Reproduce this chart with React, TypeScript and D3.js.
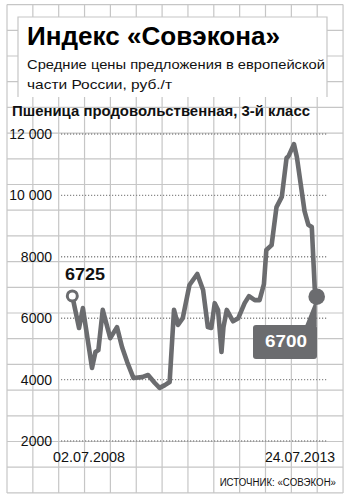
import React from "react";
import * as d3 from "d3";

const W = 349;
const H = 501;

const dates = [
  "2008-07-02", "2008-08-22", "2008-09-20", "2008-11-28", "2008-12-24",
  "2009-01-15", "2009-02-17", "2009-04-15", "2009-06-05", "2009-07-13",
  "2009-08-21", "2009-10-08", "2009-12-12", "2010-01-26", "2010-03-18",
  "2010-04-23", "2010-06-02", "2010-07-08", "2010-08-10", "2010-09-09",
  "2010-10-15", "2010-12-05", "2011-02-02", "2011-03-18", "2011-04-23",
  "2011-05-19", "2011-06-14", "2011-07-09", "2011-08-04", "2011-08-19",
  "2011-09-13", "2011-10-30", "2011-12-09", "2012-01-26", "2012-02-28",
  "2012-04-12", "2012-05-18", "2012-06-20", "2012-07-08", "2012-08-17",
  "2012-09-23", "2012-11-02", "2012-12-08", "2012-12-23", "2013-02-02",
  "2013-02-24", "2013-04-23", "2013-05-22", "2013-06-17", "2013-07-09",
  "2013-07-24",
];

const prices = [
  6725, 5680, 6330, 4380, 4900,
  4960, 6270, 5350, 5710, 5060,
  4570, 4050, 4080, 4150, 3890,
  3730, 3820, 3920, 6270, 5780,
  6000, 7080, 7440, 6920, 5710,
  5680, 6490, 6270, 4900, 5710,
  6270, 5900, 6000, 6490, 6720,
  6590, 6590, 7110, 8220, 8380,
  9620, 9950, 11220, 11280, 11670,
  11250, 9490, 9040, 8970, 6980,
  6700,
];

const yTicks = [2000, 4000, 6000, 8000, 10000, 12000];
const yTickLabels = ["2000", "4000", "6000", "8000", "10 000", "12 000"];
const xLabels = ["02.07.2008", "24.07.2013"];
const startLabel = "6725";
const endLabel = "6700";

const title = "Индекс «Совэкона»";
const subtitle1 = "Средние цены предложения в европейской";
const subtitle2 = "части России, руб./т";
const seriesTitle = "Пшеница продовольственная, 3-й класс";
const source = "ИСТОЧНИК: «СОВЭКОН»";

const FONT = "'Liberation Sans', Arial, sans-serif";
const LINE = "#6b6c6f";
const GRID = "#c6c6c6";

export default function App() {
  const parse = d3.timeParse("%Y-%m-%d");
  const data: [Date, number][] = dates.map((d, i) => [parse(d) as Date, prices[i]]);

  const x = d3
    .scaleTime()
    .domain([data[0][0], data[data.length - 1][0]])
    .range([72.3, 316.7]);
  const y = d3.scaleLinear().domain([2000, 12000]).range([441, 134]);

  const line = d3
    .line<[Date, number]>()
    .x((d) => x(d[0]))
    .y((d) => y(d[1]))
    .curve(d3.curveLinear);

  const gx = d3.range(14).map((i) => 7 + i * 25.85);
  const gy = d3.range(20).map((i) => 4.6 + i * 25.7);

  const first = data[0];
  const last = data[data.length - 1];
  const sx = x(first[0]);
  const sy = y(first[1]);
  const ex = x(last[0]);
  const ey = y(last[1]);

  return (
    <div style={{ position: "absolute", left: 0, top: 0 }}>
      <svg width={W} height={H} style={{ display: "block", fontFamily: FONT }}>
        <rect x={0} y={0} width={W} height={H} fill="#fff" />
        {/* background grid */}
        <g stroke={GRID} strokeWidth={1.2}>
          {gx.map((gxx, i) => (
            <line key={"v" + i} x1={gxx} x2={gxx} y1={gy[0]} y2={gy[gy.length - 1]} />
          ))}
          {gy.map((gyy, i) => (
            <line key={"h" + i} x1={gx[0]} x2={gx[gx.length - 1]} y1={gyy} y2={gyy} />
          ))}
        </g>
        {/* title box */}
        <rect x={18} y={17} width={309} height={80} fill="#fff" />
        <path d="M18,97 V17 H327 V97" fill="none" stroke={GRID} strokeWidth={1.2} />
        <text x={27} y={45} fontSize={25} fontWeight={700} fill="#000" textLength={253} lengthAdjust="spacingAndGlyphs">
          {title}
        </text>
        <text x={27} y={68.5} fontSize={13.5} fill="#111" textLength={298} lengthAdjust="spacingAndGlyphs">
          {subtitle1}
        </text>
        <text x={27} y={88.5} fontSize={13.5} fill="#111" textLength={145} lengthAdjust="spacingAndGlyphs">
          {subtitle2}
        </text>
        <text x={12} y={116} fontSize={14.5} fontWeight={700} fill="#111" textLength={298} lengthAdjust="spacingAndGlyphs">
          {seriesTitle}
        </text>

        {/* dotted value grid + labels */}
        {yTicks.map((t, i) => (
          <g key={"t" + i}>
            <line
              x1={61}
              x2={328}
              y1={y(t)}
              y2={y(t)}
              stroke="#8a8a8a"
              strokeWidth={1.4}
              strokeDasharray="1.2 1.8"
            />
            <text x={52} y={y(t)} dy="0.36em" fontSize={14} textAnchor="end" fill="#111">
              {yTickLabels[i]}
            </text>
          </g>
        ))}

        {/* series */}
        <path
          d={line(data) || ""}
          fill="none"
          stroke={LINE}
          strokeWidth={4.6}
          strokeLinejoin="round"
          strokeLinecap="round"
        />
        <circle cx={sx} cy={sy} r={5} fill="#fff" stroke={LINE} strokeWidth={3} />
        <text x={65} y={280} fontSize={16} fontWeight={700} fill="#111" textLength={40} lengthAdjust="spacingAndGlyphs">
          {startLabel}
        </text>

        <path d={`M305,326 L${ex},326 L${ex},${ey}`} fill={LINE} />
        <rect x={253} y={325} width={64} height={34} rx={3} fill={LINE} />
        <circle cx={ex} cy={ey} r={8.3} fill={LINE} />
        <text x={286} y={347} fontSize={16} fontWeight={700} fill="#fff" textAnchor="middle" textLength={42} lengthAdjust="spacingAndGlyphs">
          {endLabel}
        </text>

        {/* date labels */}
        <text x={53} y={462} fontSize={14} fill="#111" textLength={72} lengthAdjust="spacingAndGlyphs">
          {xLabels[0]}
        </text>
        <text x={335} y={462} fontSize={14} fill="#111" textAnchor="end">
          {xLabels[1]}
        </text>
        <g transform="translate(336,485.5) scale(0.88,1)">
          <text x={0} y={0} fontSize={11} fill="#111" textAnchor="end">
            {source}
          </text>
        </g>
      </svg>
    </div>
  );
}
